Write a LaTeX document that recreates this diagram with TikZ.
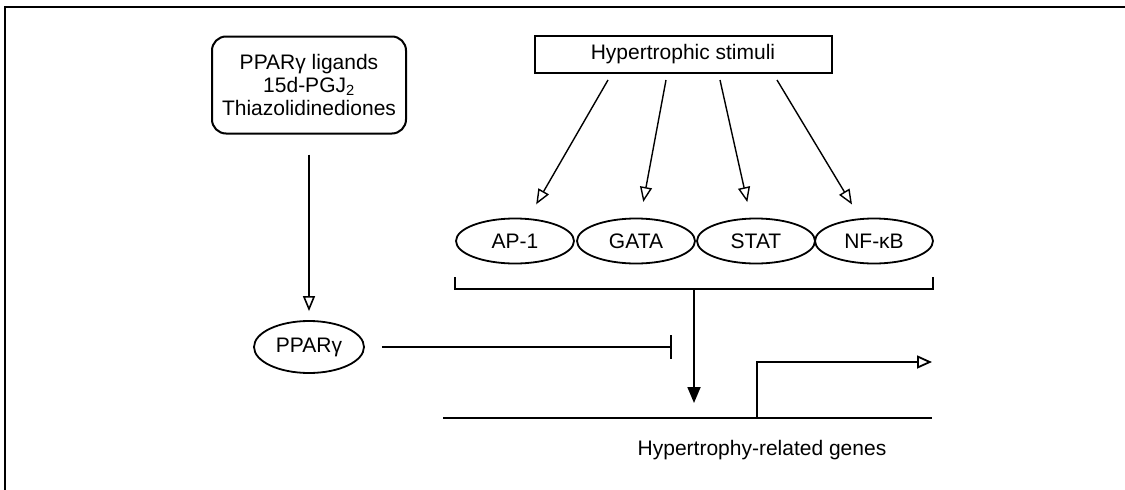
\documentclass[tikz,border=0pt]{standalone}
\usepackage{fontspec}
\setmainfont{Liberation Sans}
\usetikzlibrary{arrows.meta,positioning,shapes.geometric}

\begin{document}
\begin{tikzpicture}[x=1pt,y=-1pt,node distance=120pt,on grid,
		font=\fontsize{21}{23}\selectfont,
		ligbox/.style={draw,line width=2pt,rounded corners=14pt,align=center,minimum width=194pt,minimum height=97pt},
		stimbox/.style={draw,line width=2pt,minimum width=297pt,minimum height=37pt},
		factor/.style={draw,ellipse,line width=1.8pt,inner sep=0pt,minimum width=118pt,minimum height=45pt},
		stimarrow/.style={line width=1.4pt,shorten >=16pt,-{Triangle[open,length=15pt,width=12pt]}},
		activ/.style={line width=1.8pt,-{Triangle[length=16pt,width=13pt]}}]
		\useasboundingbox (0,0) rectangle (1125,490);
		\draw[line width=2.2pt] (5,490) -- (5,7) -- (1125,7);
		% upstream signals
		\node[ligbox] (lig) at (309,85) {PPARγ ligands\\15d-PGJ\textsubscript{2}\\Thiazolidinediones};
		\node[stimbox] (stim) at (683,54) {Hypertrophic stimuli};
		% transcription factors
		\node[factor] (ap1) at (515,241) {AP-1};
		\node[factor] (gata) [right=121pt of ap1] {GATA};
		\node[factor] (stat) [right=of gata] {STAT};
		\node[factor] (nfkb) [right=118pt of stat] {NF-κB};
		\node[factor,minimum width=110pt,minimum height=52pt] (ppar) at (309,347) {PPARγ};
		\coordinate (s1) at (608,80);
		\coordinate (s2) at (666,80);
		\coordinate (s3) at (720,80);
		\coordinate (s4) at (777,80);
		\path[stimarrow]
			(s1) edge (ap1)
			(s2) edge (gata)
			(s3) edge (stat)
			(s4) edge (nfkb);
		\draw[line width=1.6pt,shorten <=20pt,shorten >=9pt,-{Triangle[open,length=15pt,width=12pt]}] (lig.south) -- (ppar);
		% bracket and promoter
		\coordinate (bl) at (455,289);
		\coordinate (br) at (933,289);
		\coordinate (bm) at (694,289);
		\draw[line width=1.8pt] ([yshift=12pt]bl) -- (bl) -- (br) -- ([yshift=12pt]br);
		\coordinate (site) at (694,403);
		\draw[activ] (bm) -- (site);
		\coordinate (blk) at (672,347);
		\draw[line width=1.8pt,shorten <=17pt,-{Bar[width=24pt]}] (ppar) -- (blk);
		\coordinate (g0) at (443,418);
		\coordinate (g1) at (932,418);
		\coordinate (tss) at (757,418);
		\coordinate (tx) at (932,362);
		\draw[line width=2.4pt] (g0) -- (g1);
		\draw[line width=1.8pt,-{Triangle[open,length=15pt,width=13pt]}] (tss) |- (tx);
		\node (genes) at (762,450) {Hypertrophy-related genes};
	\end{tikzpicture}
\end{document}
